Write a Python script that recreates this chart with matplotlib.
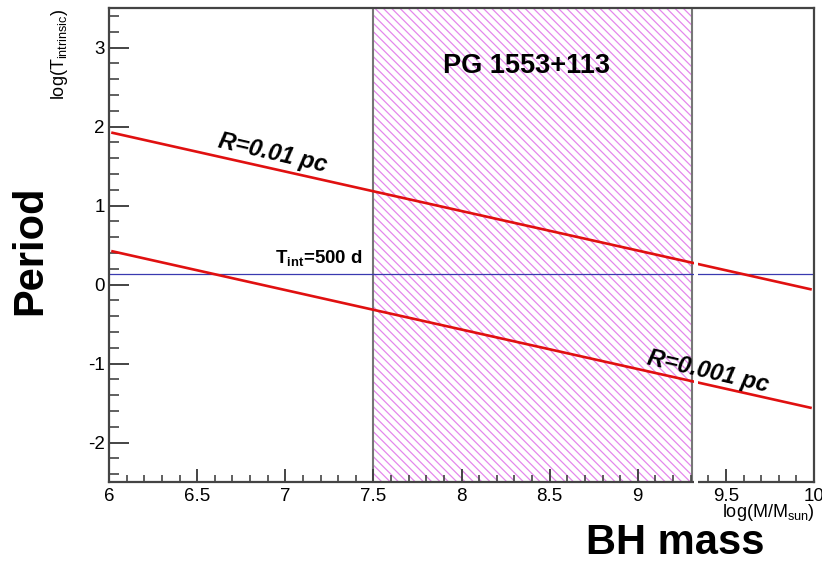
import matplotlib
matplotlib.use("Agg")
import matplotlib.pyplot as plt
from matplotlib.patches import Rectangle
from matplotlib.ticker import MultipleLocator
import matplotlib.transforms as mtransforms

plt.rcParams['font.family'] = ['Liberation Sans', 'DejaVu Sans']
plt.rcParams['mathtext.fontset'] = 'custom'
plt.rcParams['mathtext.rm'] = 'Liberation Sans'
plt.rcParams['mathtext.bf'] = 'Liberation Sans:bold'
plt.rcParams['mathtext.it'] = 'Liberation Sans:italic'
plt.rcParams['axes.unicode_minus'] = False
plt.rcParams['hatch.linewidth'] = 0.9

# data
mass = [6.02, 9.98]                 # log(M/Msun)
logT_r01 = [1.92, -0.06]            # R = 0.01 pc
logT_r001 = [0.42, -1.56]           # R = 0.001 pc
t_int = 0.137                       # log of 500 d in years
pg_range = [7.5, 9.31]              # PG 1553+113 mass range
gap = [9.32, 9.343]                 # white break in the original figure

frame_col = '#444444'

fig = plt.figure(figsize=(8.22, 5.63), dpi=100)
ax = fig.add_axes([109 / 822, 1 - 482 / 563, (814 - 109) / 822, (482 - 8) / 563])

# hatched mass range
ax.axvspan(pg_range[0], pg_range[1], facecolor='none', edgecolor='#e488ec',
           hatch='\\\\\\\\', linewidth=0, zorder=1)
for xv in pg_range:
    ax.axvline(xv, color='#777777', lw=1.5, zorder=1.5)

ax.axhline(t_int, color='#3a3ab0', lw=0.9, zorder=2)
ax.plot(mass, logT_r01, color='#e01010', lw=1.9, zorder=2)
ax.plot(mass, logT_r001, color='#e01010', lw=1.9, zorder=2)

# white break through lines and bottom frame
trans = mtransforms.blended_transform_factory(ax.transData, ax.transAxes)
ax.add_patch(Rectangle((gap[0], -0.02), gap[1] - gap[0], 1.012, transform=trans,
                       facecolor='white', edgecolor='none', clip_on=False, zorder=3))

ax.set_xlim(6, 10)
ax.set_ylim(-2.5, 3.5)
ax.xaxis.set_major_locator(MultipleLocator(0.5))
ax.xaxis.set_minor_locator(MultipleLocator(0.1))
ax.yaxis.set_major_locator(MultipleLocator(1))
ax.yaxis.set_minor_locator(MultipleLocator(0.2))
ax.xaxis.set_major_formatter(plt.FuncFormatter(lambda v, p: f"{v:g}"))
ax.yaxis.set_major_formatter(plt.FuncFormatter(lambda v, p: f"{v:g}"))

for s in ax.spines.values():
    s.set_color(frame_col)
    s.set_linewidth(1.6)

ax.tick_params(axis='y', which='major', direction='in', length=14.4, width=1.4,
               color=frame_col, labelsize=13.5, pad=3, right=False)
ax.tick_params(axis='y', which='minor', direction='in', length=7.2, width=1.2,
               color=frame_col, right=False)
ax.tick_params(axis='x', which='major', direction='in', length=9.4, width=1.4,
               color=frame_col, labelsize=13.5, pad=4, top=False)
ax.tick_params(axis='x', which='minor', direction='in', length=5, width=1.2,
               color=frame_col, top=False)

# annotations
ax.text(8.37, 2.77, 'PG 1553+113', fontsize=19.5, fontweight='bold',
        ha='center', va='center')
ax.text(6.93, 1.66, 'R=0.01 pc', fontsize=17, fontweight='bold', style='italic',
        rotation=-13, rotation_mode='anchor', ha='center', va='center')
ax.text(9.40, -1.10, 'R=0.001 pc', fontsize=17, fontweight='bold', style='italic',
        rotation=-13, rotation_mode='anchor', ha='center', va='center')
ax.text(7.19, 0.33, r'T$_{\mathbf{int}}$=500 d', fontsize=13.5, fontweight='bold',
        ha='center', va='center')

# axis titles
fig.text(60 / 822, 1 - 9 / 563, r'log(T$_{\rm intrinsic}$)', fontsize=13,
         rotation=90, ha='center', va='top')
fig.text(815 / 822, 1 - 502 / 563, r'log(M/M$_{\rm sun}$)', fontsize=13,
         ha='right', va='top')
fig.text(30 / 822, 1 - 250 / 563, 'Period', fontsize=30, fontweight='bold',
         rotation=90, ha='center', va='center')
fig.text(675 / 822, 1 - 543 / 563, 'BH mass', fontsize=30, fontweight='bold',
         ha='center', va='center')

fig.savefig('out.png', dpi=100)
